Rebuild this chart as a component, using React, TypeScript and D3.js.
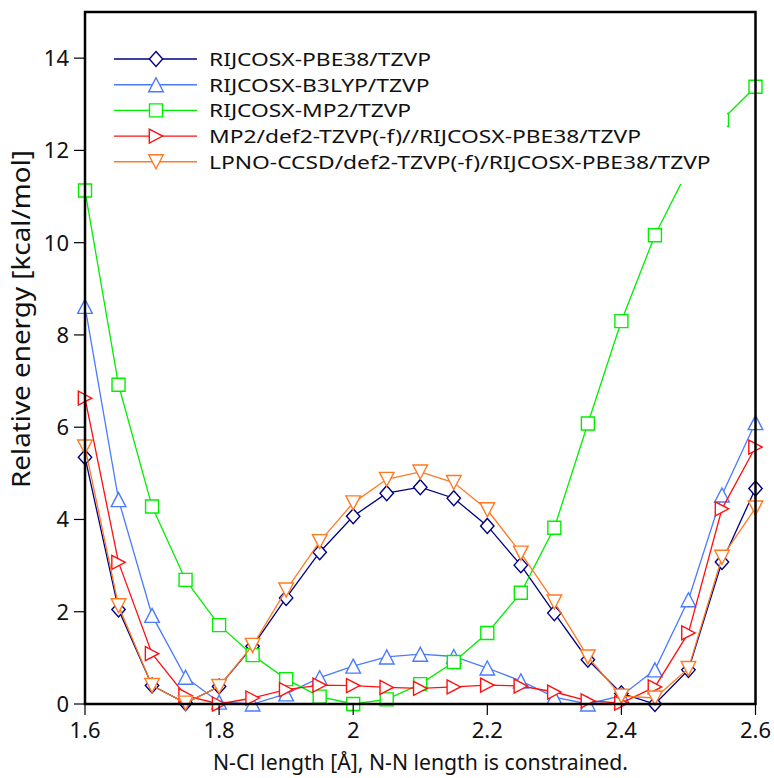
import React from "react";
import * as d3 from "d3";

const xs = [1.6, 1.65, 1.7, 1.75, 1.8, 1.85, 1.9, 1.95, 2.0, 2.05, 2.1, 2.15, 2.2, 2.25, 2.3, 2.35, 2.4, 2.45, 2.5, 2.55, 2.6];

const pbe38 = [5.35, 2.05, 0.4, 0.02, 0.38, 1.25, 2.3, 3.29, 4.07, 4.57, 4.7, 4.46, 3.86, 3.01, 1.97, 0.96, 0.23, 0.0, 0.74, 3.08, 4.67];
const b3lyp = [8.62, 4.43, 1.92, 0.58, 0.04, 0.0, 0.22, 0.57, 0.82, 1.02, 1.08, 1.03, 0.78, 0.5, 0.15, 0.0, 0.18, 0.74, 2.26, 4.53, 6.1];
const mp2 = [11.13, 6.92, 4.28, 2.69, 1.71, 1.06, 0.54, 0.16, 0.0, 0.1, 0.43, 0.91, 1.54, 2.41, 3.82, 6.08, 8.3, 10.16, 11.6, 12.66, 13.38];
const mp2sp = [6.63, 3.07, 1.09, 0.18, 0.0, 0.13, 0.31, 0.41, 0.4, 0.36, 0.34, 0.37, 0.41, 0.39, 0.26, 0.07, 0.02, 0.37, 1.54, 4.23, 5.57];
const lpno = [5.57, 2.13, 0.4, 0.02, 0.38, 1.27, 2.47, 3.52, 4.36, 4.87, 5.03, 4.8, 4.21, 3.27, 2.21, 1.02, 0.17, 0.13, 0.77, 3.18, 4.25];

const seriesNames = [
  "RIJCOSX-PBE38/TZVP",
  "RIJCOSX-B3LYP/TZVP",
  "RIJCOSX-MP2/TZVP",
  "MP2/def2-TZVP(-f)//RIJCOSX-PBE38/TZVP",
  "LPNO-CCSD/def2-TZVP(-f)/RIJCOSX-PBE38/TZVP",
];
const seriesValues = [pbe38, b3lyp, mp2, mp2sp, lpno];
const seriesColors = ["#000080", "#4a7bff", "#00ee00", "#ff1010", "#ff7a22"];
const seriesMarkers = ["diamond", "triUp", "square", "triRight", "triDown"];

const xTicks = [1.6, 1.8, 2.0, 2.2, 2.4, 2.6];
const xTickLabels = ["1.6", "1.8", "2", "2.2", "2.4", "2.6"];
const yTicks = [0, 2, 4, 6, 8, 10, 12, 14];

const xTitle = "N-Cl length [Å], N-N length is constrained.";
const yTitle = "Relative energy [kcal/mol]";

const FONT = "'Noto Sans', 'DejaVu Sans', sans-serif";

function markerPath(type: string, cx: number, cy: number): string {
  const h = 7;
  switch (type) {
    case "diamond":
      return `M${cx},${cy - 7.5}L${cx + 6.7},${cy}L${cx},${cy + 7.5}L${cx - 6.7},${cy}Z`;
    case "square":
      return `M${cx - 6.5},${cy - 6.5}H${cx + 6.5}V${cy + 6.5}H${cx - 6.5}Z`;
    case "triUp":
      return `M${cx},${cy - h}L${cx + 7.3},${cy + h}L${cx - 7.3},${cy + h}Z`;
    case "triDown":
      return `M${cx - 7.3},${cy - h}L${cx + 7.3},${cy - h}L${cx},${cy + h}Z`;
    case "triRight":
      return `M${cx - 6.7},${cy - 7}L${cx + 6.7},${cy}L${cx - 6.7},${cy + 7}Z`;
  }
  return "";
}

export default function App() {
  const W = 774;
  const H = 778;
  const left = 85, right = 755.5, top = 12, bottom = 704;
  const x = d3.scaleLinear().domain([1.6, 2.6]).range([left, right]);
  const y = d3.scaleLinear().domain([0, 15]).range([bottom, top]);
  const line = d3
    .line<number>()
    .x((_, i) => x(xs[i]))
    .y((d) => y(d));

  const legX0 = 114, legX1 = 197, legMX = 156, legTX = 209;
  const legY0 = 59, legDY = 25.7;

  return (
    <div style={{ position: "absolute", left: 0, top: 0 }}>
      <svg width={W} height={H} style={{ display: "block", background: "#fff" }} fontFamily={FONT}>
        <rect x={0} y={0} width={W} height={H} fill="#fff" />
        {seriesValues.map((vals, si) => (
          <g key={si}>
            <path d={line(vals) || ""} fill="none" stroke={seriesColors[si]} strokeWidth={1.3} />
            {vals.map((v, i) => (
              <path
                key={i}
                d={markerPath(seriesMarkers[si], x(xs[i]), y(v))}
                fill="#fff"
                stroke={seriesColors[si]}
                strokeWidth={1.4}
              />
            ))}
          </g>
        ))}
        {/* legend (opaque, no frame) */}
        <rect x={100} y={35} width={627} height={149} fill="#fff" />
        {seriesNames.map((name, si) => {
          const ly = legY0 + si * legDY;
          return (
            <g key={si}>
              <line x1={legX0} x2={legX1} y1={ly} y2={ly} stroke={seriesColors[si]} strokeWidth={1.4} />
              <path d={markerPath(seriesMarkers[si], legMX, ly)} fill="#fff" stroke={seriesColors[si]} strokeWidth={1.4} />
              <text transform={`translate(${legTX},${ly}) scale(1.2,1)`} dy="0.36em" fontSize={19} fill="#111">
                {name}
              </text>
            </g>
          );
        })}
        {/* frame */}
        <rect x={left} y={top} width={right - left} height={bottom - top} fill="none" stroke="#000" strokeWidth={2.5} />
        {/* y ticks */}
        {yTicks.map((t) => (
          <g key={t}>
            <line x1={left - 11} x2={left} y1={y(t)} y2={y(t)} stroke="#000" strokeWidth={1.2} />
            <text x={left - 16} y={y(t)} dy="0.36em" textAnchor="end" fontSize={22} fill="#111">
              {t}
            </text>
          </g>
        ))}
        {/* x ticks */}
        {xTicks.map((t, i) => (
          <g key={t}>
            <line x1={x(t)} x2={x(t)} y1={bottom} y2={bottom + 11} stroke="#000" strokeWidth={1.2} />
            <text x={x(t)} y={738} textAnchor="middle" fontSize={22} fill="#111">
              {xTickLabels[i]}
            </text>
          </g>
        ))}
        <text x={(213 + 628) / 2} y={770} textAnchor="middle" fontSize={21} fill="#111" textLength={415} lengthAdjust="spacingAndGlyphs">
          {xTitle}
        </text>
        <text
          transform={`translate(30,319) rotate(-90)`}
          textAnchor="middle"
          fontSize={25}
          fill="#111"
          textLength={338}
          lengthAdjust="spacingAndGlyphs"
        >
          {yTitle}
        </text>
      </svg>
    </div>
  );
}
